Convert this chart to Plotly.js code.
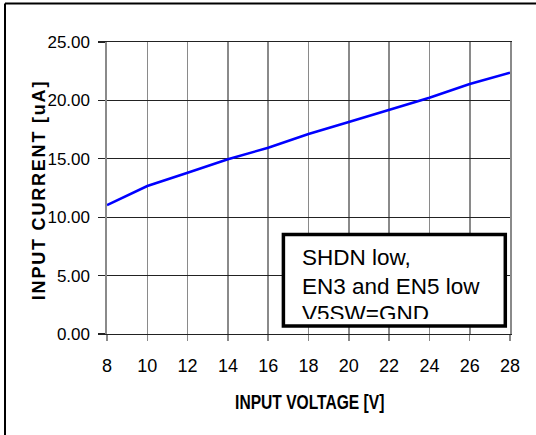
<!DOCTYPE html>
<html>
<head>
<meta charset="utf-8">
<script src="https://cdn.plot.ly/plotly-3.0.1.min.js"></script>
<style>
  html, body { margin: 0; padding: 0; background: #fff; }
  #chart { width: 536px; height: 435px; }
  .annotation[data-index="0"] .annotation-text { letter-spacing: 1.8px; }
  .annotation[data-index="1"] .annotation-text {
    transform: scaleX(0.78); transform-box: fill-box; transform-origin: center;
  }
</style>
</head>
<body>
<div id="chart"></div>
<script>
// Data
const voltage = [8, 10, 12, 14, 16, 18, 20, 22, 24, 26, 28];
const current = [11.04, 12.67, 13.81, 14.96, 15.95, 17.12, 18.15, 19.18, 20.23, 21.40, 22.37];
const xTickVals = [8, 10, 12, 14, 16, 18, 20, 22, 24, 26, 28];
const yTickVals = [0, 5, 10, 15, 20, 25];
const yTickText = ['0.00', '5.00', '10.00', '15.00', '20.00', '25.00'];
const xTitle = 'INPUT VOLTAGE [V]';
const yTitle = 'INPUT CURRENT [uA]';
const noteLines = ['SHDN low,', 'EN3 and EN5 low', 'V5SW=GND'];

// Layout geometry helpers (pixel -> paper)
const L = 107, R = 510, T = 42, B = 334;
const px = v => (v - L) / (R - L);
const py = v => (B - v) / (B - T);

const sans = 'Liberation Sans, Arial, Helvetica, sans-serif';

const trace = {
  x: voltage,
  y: current,
  type: 'scatter',
  mode: 'lines',
  line: { color: '#0000ff', width: 2.5 },
  hoverinfo: 'skip'
};

const noteY = [257.5, 286.3, 313.8];
const annotations = [
  { text: '<b>' + yTitle + '</b>', xref: 'paper', yref: 'paper', x: px(39), y: py(190),
    textangle: -90, showarrow: false, xanchor: 'center', yanchor: 'middle',
    font: { family: sans, size: 18, color: '#000' } },
  { text: '<b>' + xTitle + '</b>', xref: 'paper', yref: 'paper', x: px(309), y: py(402),
    showarrow: false, xanchor: 'center', yanchor: 'middle',
    font: { family: sans, size: 20, color: '#000' } }
];
noteLines.forEach((t, i) => {
  annotations.push({ text: t, xref: 'paper', yref: 'paper', x: px(300), y: py(noteY[i]),
    showarrow: false, xanchor: 'left', yanchor: 'middle',
    font: { family: sans, size: 22.5, color: '#000' } });
});
// white strip that clips the last line, as in the reference
annotations.push({ text: ' ', xref: 'paper', yref: 'paper', x: px(394), y: py(321),
  showarrow: false, xanchor: 'center', yanchor: 'middle', width: 216, height: 5,
  bgcolor: '#ffffff', borderpad: 0, borderwidth: 0, font: { size: 1, color: '#fff' } });

const layout = {
  width: 536, height: 435,
  margin: { l: L, r: 536 - R, t: T, b: 435 - B, pad: 0 },
  paper_bgcolor: '#ffffff', plot_bgcolor: '#ffffff',
  showlegend: false,
  xaxis: {
    range: [8, 28], tickvals: xTickVals, ticktext: xTickVals.map(String),
    showgrid: true, gridcolor: '#8a8a8a', gridwidth: 1.6,
    showline: true, linecolor: '#222222', linewidth: 1.2, mirror: true,
    ticks: 'outside', ticklen: 6, tickcolor: '#8a8a8a', tickwidth: 1.5,
    ticklabelstandoff: 9,
    zeroline: false, fixedrange: true,
    tickfont: { family: sans, size: 18, color: '#000' }
  },
  yaxis: {
    range: [0, 25], tickvals: yTickVals, ticktext: yTickText,
    showgrid: true, gridcolor: '#222222', gridwidth: 1.2,
    showline: true, linecolor: '#8a8a8a', linewidth: 1.6, mirror: true,
    ticks: 'outside', ticklen: 7, tickcolor: '#222222', tickwidth: 1.2,
    ticklabelstandoff: 5,
    zeroline: false, fixedrange: true,
    tickfont: { family: sans, size: 17, color: '#000' }
  },
  shapes: [
    // outer frame (top and left edges only)
    { type: 'line', xref: 'paper', yref: 'paper', x0: px(5), x1: px(540), y0: py(3.5), y1: py(3.5),
      line: { color: '#000', width: 2 } },
    { type: 'line', xref: 'paper', yref: 'paper', x0: px(5), x1: px(5), y0: py(3.5), y1: py(440),
      line: { color: '#000', width: 2 } },
    // note box
    { type: 'rect', xref: 'paper', yref: 'paper', layer: 'above',
      x0: px(283.4), x1: px(505.3), y0: py(326), y1: py(234.5),
      fillcolor: '#ffffff', line: { color: '#000', width: 3.5 } }
  ],
  annotations: annotations
};

Plotly.newPlot('chart', [trace], layout, { staticPlot: true, displayModeBar: false });
</script>
</body>
</html>
